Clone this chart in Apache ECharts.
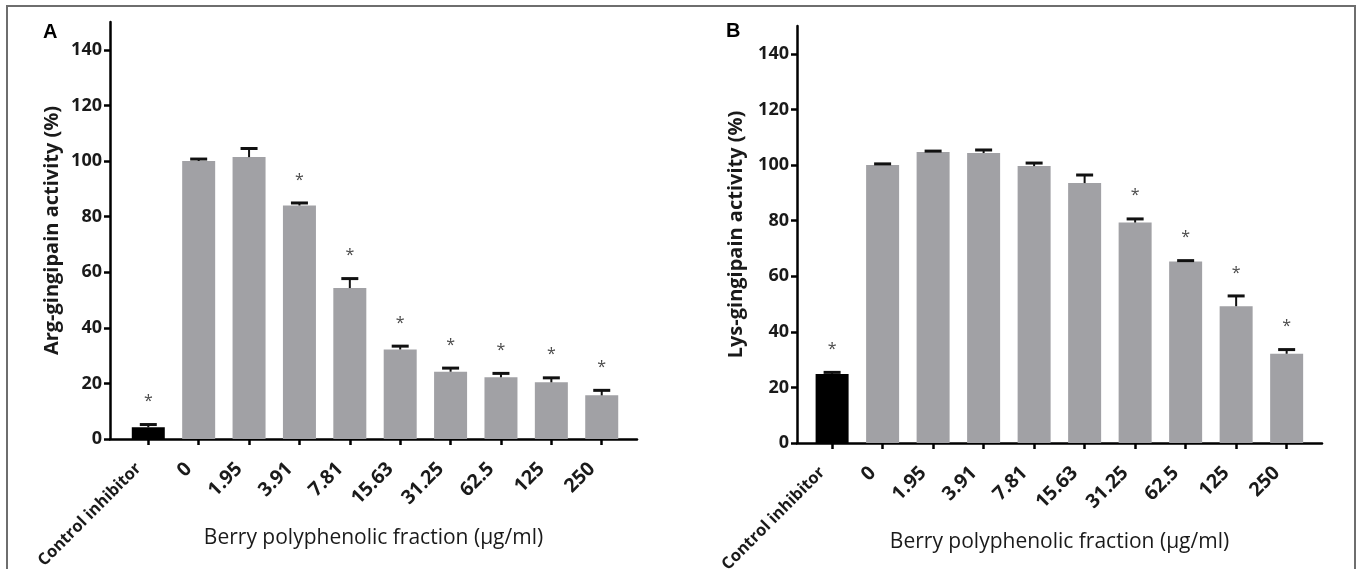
<!DOCTYPE html>
<html>
<head>
<meta charset="utf-8">
<script src="https://cdn.jsdelivr.net/npm/echarts@6/dist/echarts.min.js"></script>
<style>
html,body{margin:0;padding:0;background:#fff;}
#chart{width:1357px;height:569px;}
</style>
</head>
<body>
<div id="chart"></div>
<script>
// ---- data ----
const categories = ['Control inhibitor','0','1.95','3.91','7.81','15.63','31.25','62.5','125','250'];
const argMean = [4.2, 100.0, 101.4, 84.0, 54.3, 32.2, 24.2, 22.2, 20.4, 15.7];
const argErr  = [1.0, 0.7, 3.1, 0.9, 3.4, 1.2, 1.3, 1.4, 1.6, 1.8];
const argSig  = [1, 0, 0, 1, 1, 1, 1, 1, 1, 1];
const lysMean = [24.8, 100.0, 104.7, 104.3, 99.6, 93.5, 79.3, 65.3, 49.2, 32.1];
const lysErr  = [0.6, 0.4, 0.3, 1.1, 1.1, 2.9, 1.3, 0.3, 3.7, 1.5];
const lysSig  = [1, 0, 0, 0, 0, 0, 1, 1, 1, 1];
const yTicks = [0, 20, 40, 60, 80, 100, 120, 140];
const xTicks = categories.map((c, i) => i);

const FONT = '"Open Sans", "Noto Sans", sans-serif';
const GRAY = '#a1a1a5';

function barData(means) {
  return means.map((v, i) => ({
    value: [i, v],
    itemStyle: { color: i === 0 ? '#000000' : GRAY }
  }));
}
function errData(means, errs, sig) {
  return means.map((v, i) => [i, v, errs[i], sig[i]]);
}
function errRender(params, api) {
  const i = api.value(0), m = api.value(1), e = api.value(2), s = api.value(3);
  const p0 = api.coord([i, m]);
  const p1 = api.coord([i, m + e]);
  const children = [
    { type: 'line', shape: { x1: p0[0], y1: p0[1], x2: p1[0], y2: p1[1] }, style: { stroke: '#111', lineWidth: 2 } },
    { type: 'line', shape: { x1: p1[0] - 8.5, y1: p1[1], x2: p1[0] + 8.5, y2: p1[1] }, style: { stroke: '#111', lineWidth: 3 } }
  ];
  if (s) {
    children.push({
      type: 'text',
      style: { text: '*', x: p1[0], y: p1[1] - 23, align: 'center', verticalAlign: 'middle',
               font: '16px ' + FONT, fill: '#4a4a4a' }
    });
  }
  return { type: 'group', children };
}

function xLabel(v) {
  const i = Math.round(v);
  return i === 0 ? '{ctrl|' + categories[i] + '}' : categories[i];
}

function xAxisCfg(gridIndex, min, max) {
  return {
    type: 'value', gridIndex, min, max,
    name: 'Berry polyphenolic fraction (\u03bcg/ml)',
    nameLocation: 'middle', nameGap: 89, nameMoveOverlap: false,
    nameTextStyle: { fontFamily: FONT, fontSize: 21, color: '#1a1a1a' },
    splitLine: { show: false },
    axisLine: { show: true, onZero: false, lineStyle: { color: '#000', width: 2.5 } },
    axisTick: { show: true, customValues: xTicks, length: 6, lineStyle: { color: '#000', width: 2.5 } },
    axisLabel: {
      customValues: xTicks, rotate: 45, margin: 17, padding: [0, 14, 0, 0],
      formatter: xLabel,
      fontFamily: FONT, fontSize: 19.5, fontWeight: 'bold', color: '#1a1a1a',
      rich: { ctrl: { fontFamily: FONT, fontSize: 16.5, fontWeight: 'bold', color: '#1a1a1a' } }
    }
  };
}
function yAxisCfg(gridIndex, name, gap) {
  return {
    type: 'value', gridIndex, min: 0, max: 150,
    name, nameLocation: 'middle', nameGap: gap, nameMoveOverlap: false,
    nameTextStyle: { fontFamily: FONT, fontSize: 20, fontWeight: 'bold', color: '#1a1a1a' },
    splitLine: { show: false },
    axisLine: { show: true, onZero: false, lineStyle: { color: '#000', width: 2.5 } },
    axisTick: { show: true, customValues: yTicks, length: 6, lineStyle: { color: '#000', width: 2.5 } },
    axisLabel: { customValues: yTicks, margin: 8, fontFamily: FONT, fontSize: 18, fontWeight: 'bold', color: '#1a1a1a' }
  };
}

const option = {
  animation: false,
  backgroundColor: '#fff',
  grid: [
    { left: 110, top: 22, width: 527, height: 417, containLabel: false, outerBoundsMode: 'none' },
    { left: 797, top: 26, width: 525, height: 417, containLabel: false, outerBoundsMode: 'none' }
  ],
  xAxis: [ xAxisCfg(0, -0.76, 9.70), xAxisCfg(1, -0.695, 9.70) ],
  yAxis: [ yAxisCfg(0, 'Arg-gingipain activity (%)', 48), yAxisCfg(1, 'Lys-gingipain activity (%)', 51) ],
  graphic: [
    { type: 'polyline', shape: { points: [[7, 600], [7, 6], [1355, 6], [1355, 600]] },
      style: { stroke: '#6e6e6e', lineWidth: 2, fill: null } },
    { type: 'text', left: 43, top: 22, style: { text: 'A', font: 'bold 20px "Liberation Sans", Arial, sans-serif', fill: '#000' } },
    { type: 'text', left: 726, top: 21, style: { text: 'B', font: 'bold 20px "Liberation Sans", Arial, sans-serif', fill: '#000' } }
  ],
  series: [
    { type: 'bar', xAxisIndex: 0, yAxisIndex: 0, barWidth: 33, data: barData(argMean) },
    { type: 'custom', xAxisIndex: 0, yAxisIndex: 0, renderItem: errRender, data: errData(argMean, argErr, argSig), z: 5 },
    { type: 'bar', xAxisIndex: 1, yAxisIndex: 1, barWidth: 33, data: barData(lysMean) },
    { type: 'custom', xAxisIndex: 1, yAxisIndex: 1, renderItem: errRender, data: errData(lysMean, lysErr, lysSig), z: 5 }
  ]
};
const chart = echarts.init(document.getElementById('chart'), null, { renderer: 'canvas' });
chart.setOption(option);
</script>
</body>
</html>
